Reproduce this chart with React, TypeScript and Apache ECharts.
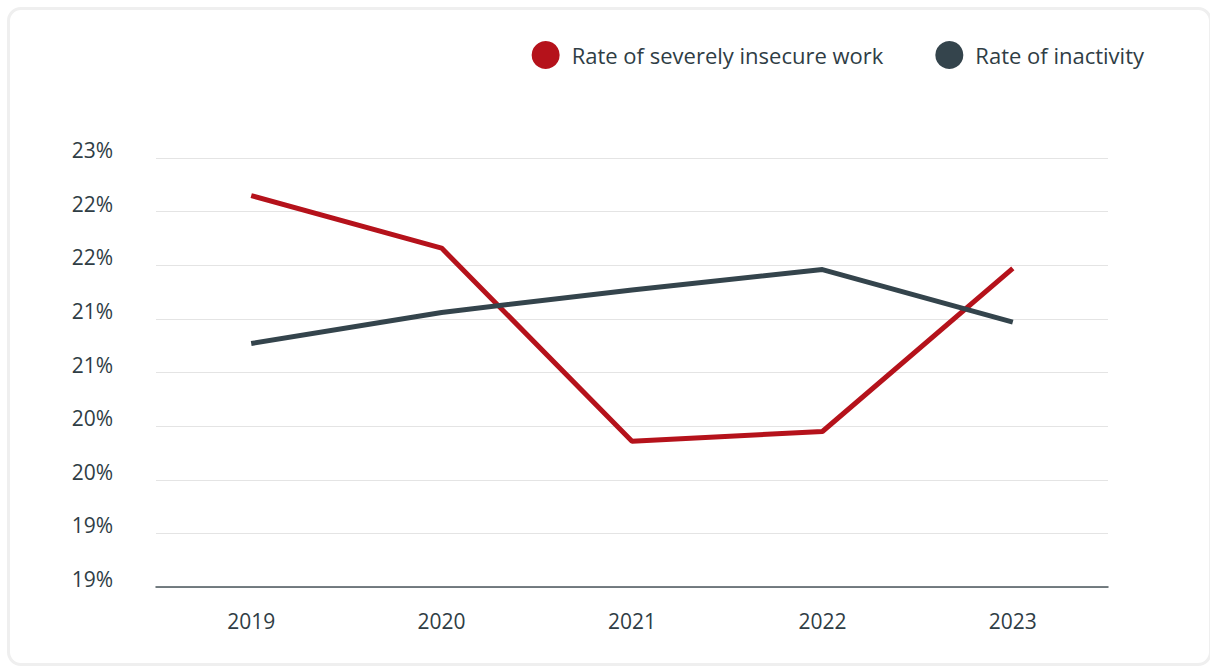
import React, { useEffect, useRef } from "react";
import * as echarts from "echarts";

const years = ["2019", "2020", "2021", "2022", "2023"];
const insecureWork = [22.15, 21.66, 19.86, 19.95, 21.47];
const inactivity = [20.77, 21.06, 21.27, 21.46, 20.97];
const seriesNames = ["Rate of severely insecure work", "Rate of inactivity"];

const FONT = "'Open Sans', sans-serif";
const TEXT = "#2f3d45";

export default function App() {
  const ref = useRef<HTMLDivElement>(null);
  useEffect(() => {
    if (!ref.current) return;
    const chart = echarts.init(ref.current, undefined, { renderer: "svg" });
    chart.setOption({
      animation: false,
      textStyle: { fontFamily: FONT },
      legend: {
        right: 61,
        top: 36,
        icon: "circle",
        itemWidth: 28,
        itemHeight: 28,
        itemGap: 52,
        textStyle: { fontSize: 22, color: TEXT, fontFamily: FONT, padding: [0, 0, 0, 7] },
        data: seriesNames,
      },
      grid: { left: 156, right: 102, top: 158, bottom: 81 },
      xAxis: {
        type: "category",
        data: years,
        boundaryGap: true,
        axisLine: { lineStyle: { color: "#4a555b", width: 1.5 } },
        axisTick: { show: false },
        axisLabel: { color: TEXT, fontSize: 21, margin: 23, fontFamily: FONT },
      },
      yAxis: {
        type: "value",
        min: 18.5,
        max: 22.5,
        interval: 0.5,
        axisLine: { show: false },
        axisTick: { show: false },
        splitLine: { lineStyle: { color: "#e4e4e4", width: 1 } },
        axisLabel: {
          color: TEXT,
          fontSize: 21,
          margin: 43,
          fontFamily: FONT,
          verticalAlign: "bottom",
          lineHeight: 16,
          formatter: (v: number) => Math.round(v) + "%",
        },
      },
      series: [
        {
          name: seriesNames[0],
          type: "line",
          data: insecureWork,
          showSymbol: false,
          symbol: "circle",
          color: "#b5121b",
          lineStyle: { width: 5, color: "#b5121b" },
        },
        {
          name: seriesNames[1],
          type: "line",
          data: inactivity,
          showSymbol: false,
          symbol: "circle",
          color: "#34444c",
          lineStyle: { width: 5, color: "#34444c" },
        },
      ],
    });
    return () => chart.dispose();
  }, []);
  return (
    <div style={{ position: "fixed", left: 0, top: 0, width: 1210, height: 668, background: "#fff" }}>
      <div
        style={{
          position: "absolute",
          left: 7,
          top: 7,
          width: 1205,
          height: 659,
          border: "3px solid #efefef",
          borderRadius: 14,
          boxSizing: "border-box",
        }}
      />
      <div ref={ref} style={{ position: "absolute", left: 0, top: 0, width: 1210, height: 668 }} />
    </div>
  );
}
